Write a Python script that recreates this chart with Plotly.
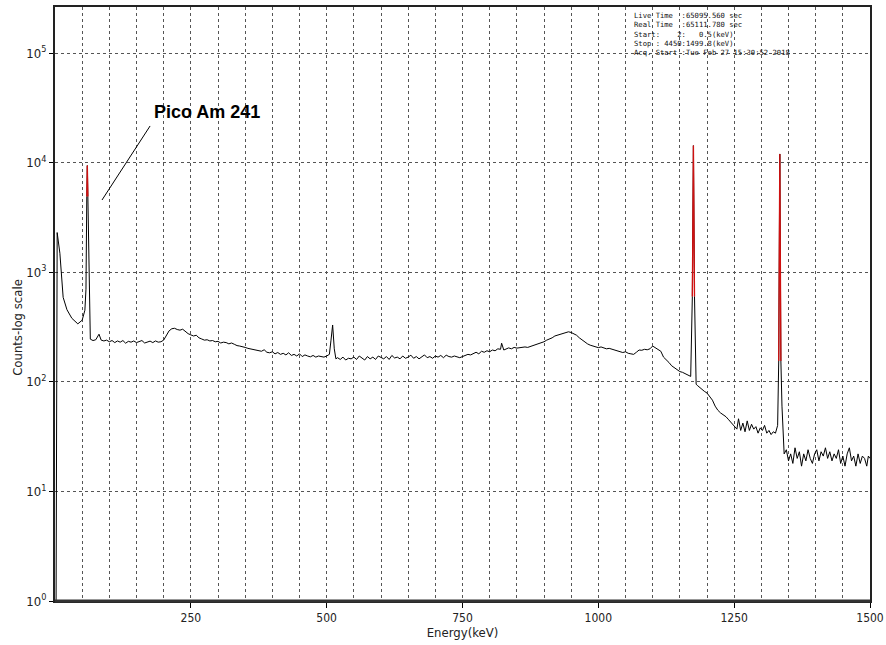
import plotly.graph_objects as go

# Gamma spectrum: energy (keV) and counts per channel
energy_kev = [
    2, 4, 9, 15, 22, 31, 42, 50, 55, 57, 58.5, 59.5, 60.5, 62, 65,
    70, 75, 81, 85, 90, 95, 100, 105, 110, 115, 120, 125, 130, 135, 140,
    145, 150, 155, 160, 165, 170, 175, 180, 185, 190, 195, 200, 205, 210,
    215, 220, 225, 230, 235, 240, 245, 250, 255, 260, 265, 270, 275, 280,
    285, 290, 295, 300, 305, 310, 315, 320, 325, 330, 335, 340, 345, 350,
    355, 360, 365, 370, 375, 380, 385, 390, 395, 400, 405, 410, 415, 420,
    425, 430, 435, 440, 445, 450, 455, 460, 465, 470, 475, 480, 485, 490,
    495, 500, 505, 508, 511, 514, 517, 520, 525, 530, 535, 540, 545, 550,
    555, 560, 565, 570, 575, 580, 585, 590, 595, 600, 605, 610, 615, 620,
    625, 630, 635, 640, 645, 650, 655, 660, 665, 670, 675, 680, 685, 690,
    695, 700, 705, 710, 715, 720, 725, 730, 735, 740, 745, 750, 755, 760,
    765, 770, 775, 780, 785, 790, 795, 800, 805, 810, 815, 820, 822, 826,
    830, 835, 840, 845, 850, 855, 860, 865, 870, 875, 880, 885, 890, 895,
    900, 905, 910, 915, 920, 925, 930, 935, 940, 945, 950, 955, 960, 965,
    970, 975, 980, 985, 990, 995, 1000, 1005, 1010, 1015, 1020, 1025, 1030,
    1035, 1040, 1045, 1050, 1055, 1060, 1065, 1070, 1075, 1080, 1085, 1090,
    1095, 1100, 1105, 1110, 1115, 1120, 1125, 1130, 1135, 1140, 1145, 1150,
    1155, 1160, 1165, 1170, 1173, 1175, 1177, 1180, 1183, 1187, 1191, 1195,
    1200, 1205, 1210, 1215, 1220, 1225, 1230, 1235, 1240, 1245, 1250, 1255,
    1258, 1262, 1266, 1270, 1274, 1278, 1282, 1286, 1290, 1294, 1298, 1302,
    1306, 1310, 1314, 1318, 1322, 1326, 1330, 1332, 1334, 1336, 1338, 1340,
    1342, 1346, 1350, 1354, 1358, 1362, 1366, 1370, 1374, 1378, 1382, 1386,
    1390, 1394, 1398, 1402, 1406, 1410, 1414, 1418, 1422, 1426, 1430, 1434,
    1438, 1442, 1446, 1450, 1454, 1458, 1462, 1466, 1470, 1474, 1478, 1482,
    1486, 1490, 1494, 1497, 1500,
]
counts = [
    1, 2300, 1490, 590, 455, 380, 338, 365, 450, 700, 4900, 9400, 4900, 1200, 245,
    238, 242, 272, 240, 236, 240, 232, 238, 228, 236, 230, 238, 225, 234, 230,
    236, 228, 232, 238, 226, 232, 235, 228, 236, 230, 232, 240, 262, 292,
    305, 308, 300, 296, 302, 285, 275, 268, 262, 266, 252, 246, 240, 242,
    236, 238, 232, 234, 226, 230, 228, 222, 226, 220, 214, 212, 210, 206,
    202, 200, 198, 195, 193, 190, 196, 186, 184, 188, 180, 185, 178, 182,
    176, 184, 174, 178, 172, 180, 170, 176, 172, 169, 174, 168, 172, 170,
    168, 172, 178, 240, 330, 200, 162, 166, 160, 168, 158, 164, 162, 168,
    160, 172, 164, 158, 170, 162, 168, 160, 172, 166, 162, 170, 160, 174,
    165, 168, 162, 172, 164, 168, 175, 164, 170, 162, 168, 176, 166, 170,
    164, 172, 168, 174, 166, 175, 170, 168, 172, 170, 166, 170, 174, 178,
    176, 182, 186, 180, 190, 186, 192, 188, 195, 192, 200, 198, 225, 195,
    200, 204, 200, 206, 203, 205, 204, 208, 206, 210, 212, 216, 222, 226,
    232, 240, 245, 252, 262, 266, 272, 276, 280, 286, 282, 276, 266, 252,
    240, 230, 222, 216, 212, 210, 205, 208, 204, 200, 202, 198, 196,
    192, 188, 185, 188, 182, 180, 178, 186, 195, 194, 198, 196,
    200, 212, 205, 200, 190, 168, 160, 150, 140, 135, 130, 124,
    122, 118, 114, 112, 600, 14300, 600, 95, 92, 88, 86, 82,
    79, 74, 68, 60, 55, 52, 50, 48, 45, 42, 40, 37,
    46, 36, 42, 35, 44, 36, 41, 37, 39, 34, 38, 36,
    40, 34, 36, 33, 35, 34, 40, 155, 12000, 155, 60, 30,
    22, 24, 19, 22, 18, 25, 20, 23, 17, 22, 19, 24,
    20, 18, 22, 24, 19, 23, 21, 25, 20, 23, 19, 22,
    20, 24, 18, 21, 17, 22, 25, 19, 21, 17, 22, 18,
    21, 20, 17, 21, 20,
]

# Region-of-interest channels around the three photopeaks (drawn in red)
roi_groups = [
    ([58.5, 59.5, 60.5], [4900, 9400, 4900]),
    ([1173, 1175, 1177], [600, 14300, 600]),
    ([1332, 1334, 1336], [155, 12000, 155]),
]

y_tick_vals = [1, 10, 100, 1000, 10000, 100000]
y_tick_text = ["10<sup>0</sup>", "10<sup>1</sup>", "10<sup>2</sup>",
               "10<sup>3</sup>", "10<sup>4</sup>", "10<sup>5</sup>"]
x_tick_vals = [250, 500, 750, 1000, 1250, 1500]
x_tick_text = ["250", "500", "750", "1000", "1250", "1500"]

info_lines = [
    "Live Time  :65095.560 sec",
    "Real Time  :65111.780 sec",
    "Start:    2:   0.5(keV)",
    "Stop : 4450:1499.8(keV)",
    "Acq. Start :Tue Feb 27 15:30:52 2018",
]

peak_label = "Pico Am 241"
pointer_x = [86.5, 175]
pointer_y = [4560, 21600]

tick_font = "DejaVu Sans Condensed, Liberation Sans Narrow, DejaVu Sans"

fig = go.Figure()
fig.add_trace(go.Scatter(x=energy_kev, y=counts, mode="lines",
                         line=dict(color="black", width=1),
                         showlegend=False, hoverinfo="x+y"))
for rx, ry in roi_groups:
    fig.add_trace(go.Scatter(x=rx, y=ry, mode="lines",
                             line=dict(color="#d01010", width=1.3),
                             showlegend=False, hoverinfo="x+y"))

# Callout pointer for the Am-241 peak
fig.add_trace(go.Scatter(x=pointer_x, y=pointer_y, mode="lines",
                         line=dict(color="black", width=1),
                         showlegend=False, hoverinfo="skip"))

grid_col = "#555555"
fig.update_layout(
    width=886, height=645,
    margin=dict(l=55, r=16, t=7, b=44, autoexpand=False),
    paper_bgcolor="white", plot_bgcolor="white",
    xaxis=dict(
        range=[0, 1500], tickmode="array", tickvals=x_tick_vals,
        ticktext=x_tick_text, ticks="outside", ticklen=5, tickcolor="black",
        showgrid=True, gridcolor=grid_col, griddash="dot", gridwidth=1,
        minor=dict(tickmode="linear", tick0=0, dtick=50, showgrid=True,
                   gridcolor=grid_col, griddash="dot", gridwidth=1, ticks=""),
        showline=True, linecolor="#222", linewidth=2, mirror=True,
        zeroline=False, automargin=False,
        tickfont=dict(family=tick_font, size=12, color="#222"),
        title=dict(text="Energy(keV)", standoff=2,
                   font=dict(family=tick_font, size=13, color="#222")),
    ),
    yaxis=dict(
        type="log", range=[0, 5.42], tickmode="array",
        tickvals=y_tick_vals, ticktext=y_tick_text,
        ticks="outside", ticklen=4, tickcolor="black",
        showgrid=True, gridcolor=grid_col, griddash="dot", gridwidth=1,
        showline=True, linecolor="#222", linewidth=2, mirror=True,
        zeroline=False, automargin=False,
        tickfont=dict(family=tick_font, size=13, color="#222"),
    ),
    shapes=[
        # heavier baseline along the energy axis
        dict(type="line", xref="paper", yref="paper", x0=0, x1=1, y0=0, y1=0,
             line=dict(color="#333", width=3)),
    ],
    annotations=[
        # vertical axis caption, set a little below the axis centre
        dict(x=-0.047, y=0.461, xref="paper", yref="paper",
             text="Counts-log scale", textangle=-90, showarrow=False,
             xanchor="center", yanchor="middle",
             font=dict(family=tick_font, size=13, color="#222")),
        dict(x=280, y=4.462, xref="x", yref="y", text="<b>%s</b>" % peak_label,
             showarrow=False, xanchor="center", yanchor="middle",
             font=dict(family="Liberation Sans, Arial", size=18, color="black")),
        dict(x=0.708, y=0.997, xref="paper", yref="paper",
             text="<br>".join(s.replace(" ", "\u00a0") for s in info_lines),
             showarrow=False, xanchor="left", yanchor="top", align="left",
             font=dict(family="DejaVu Sans Mono", size=7.2, color="#111")),
    ],
)

fig.write_html("out.html")
